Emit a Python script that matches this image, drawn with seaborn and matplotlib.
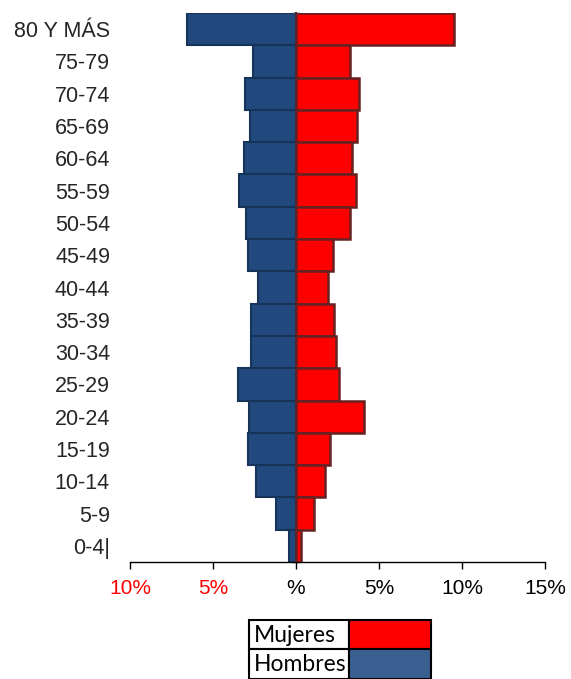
import matplotlib
matplotlib.use('Agg')
import matplotlib.pyplot as plt
import seaborn as sns
import pandas as pd
from matplotlib.patches import Rectangle

# ---- data ----
edades = ["80 Y MÁS", "75-79", "70-74", "65-69", "60-64", "55-59", "50-54",
          "45-49", "40-44", "35-39", "30-34", "25-29", "20-24", "15-19",
          "10-14", "5-9", "0-4|"]
hombres = [6.54, 2.61, 3.10, 2.80, 3.15, 3.45, 3.03, 2.87, 2.26, 2.73, 2.69,
           3.52, 2.81, 2.87, 2.43, 1.20, 0.42]
mujeres = [9.54, 3.23, 3.78, 3.69, 3.39, 3.61, 3.28, 2.21, 1.93, 2.31, 2.41,
           2.59, 4.10, 2.05, 1.77, 1.07, 0.28]
xticks = [-10, -5, 0, 5, 10, 15]
xticklabels = ["10%", "5%", "%", "5%", "10%", "15%"]
xtickcolors = ["red", "red", "black", "black", "black", "black"]
leyenda = ["Mujeres", "Hombres"]

# ---- style ----
sns.set_style('white')
plt.rcParams['font.family'] = ['Liberation Sans', 'DejaVu Sans']

W, H = 571, 679
fig = plt.figure(figsize=(W / 100, H / 100), dpi=100)
ax = fig.add_axes([130 / W, 117 / H, 415 / W, 549 / H])

df = pd.DataFrame({'edad': edades,
                   'Hombres': [-v for v in hombres],
                   'Mujeres': mujeres})

sns.barplot(data=df, x='Hombres', y='edad', orient='h', color='#21497D',
            saturation=1, width=1, edgecolor='#16335A', linewidth=1.5, ax=ax)
sns.barplot(data=df, x='Mujeres', y='edad', orient='h', color='#FF0000',
            saturation=1, width=1, edgecolor='#662222', linewidth=1.8, ax=ax)

ax.set_xlim(-10, 15)
ax.set_ylim(len(edades) - 0.5, -0.5)
ax.set_xlabel('')
ax.set_ylabel('')

for s in ['top', 'right', 'left']:
    ax.spines[s].set_visible(False)
ax.spines['bottom'].set_color('black')
ax.spines['bottom'].set_linewidth(1.0)

ax.set_xticks(xticks)
ax.set_xticklabels(xticklabels)
for lab, c in zip(ax.get_xticklabels(), xtickcolors):
    lab.set_color(c)
ax.tick_params(axis='x', bottom=True, direction='out', length=5, width=1,
               color='black', labelsize=15, pad=7.5)
ax.tick_params(axis='y', left=False, length=0, labelsize=15.5, pad=14.4)

# zero axis with ticks
sec = ax.secondary_yaxis(0.4)
n = len(edades)
sec.set_yticks([i - 0.5 for i in range(n + 1)])
sec.set_yticks(list(range(n)), minor=True)
sec.tick_params(which='major', direction='inout', length=6, width=1,
                labelleft=False, labelright=False)
sec.tick_params(which='minor', direction='in', length=4, width=1,
                labelleft=False, labelright=False)
for s in sec.spines.values():
    s.set_linewidth(1.3)
    s.set_color('black')

# ---- legend as boxed table ----
lax = fig.add_axes([0, 0, 1, 1], facecolor='none')
lax.set_xlim(0, W)
lax.set_ylim(H, 0)
lax.axis('off')
x0, xm, x1 = 249, 349, 431
y0, ym, y1 = 619.5, 649, 678.5
colores = ['#FF0000', '#3A6092']
rows = [(y0, ym), (ym, y1)]
for (ya, yb), txt, col in zip(rows, leyenda, colores):
    lax.add_patch(Rectangle((x0, ya), xm - x0, yb - ya, facecolor='white',
                            edgecolor='black', linewidth=1.5))
    lax.add_patch(Rectangle((xm, ya), x1 - xm, yb - ya, facecolor=col,
                            edgecolor='black', linewidth=1.5))
    lax.text(x0 + 5, (ya + yb) / 2 + 1, txt, fontsize=16.5, family=['Lato', 'DejaVu Sans'],
             ha='left', va='center', color='black')

fig.savefig('out.png', dpi=100)
